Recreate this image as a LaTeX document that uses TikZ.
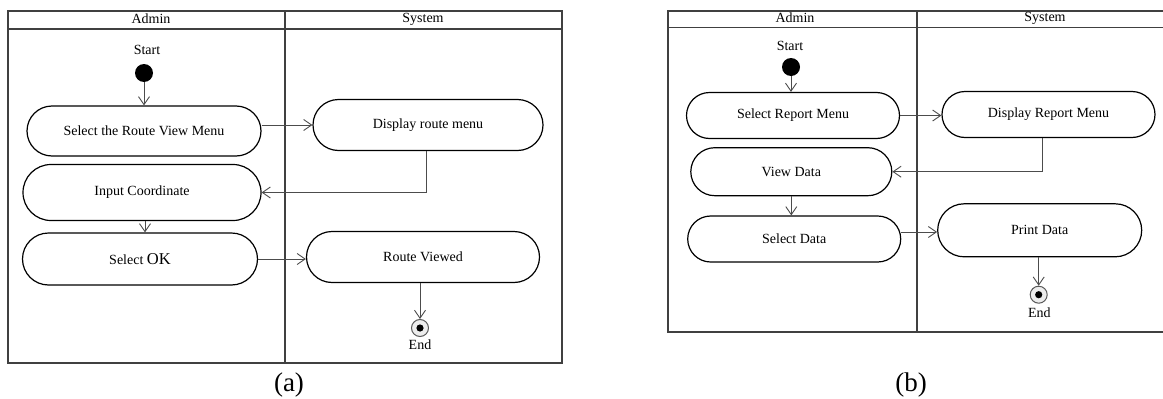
\documentclass[tikz,border=0pt]{standalone}
\usepackage{fontspec}
\setmainfont{Liberation Serif}
\usetikzlibrary{shapes.misc,arrows.meta}
\tikzset{%
	lane/.style     = {draw=black!75, line width=1.3pt}, % Swimlane frame
	action/.style   = {draw, line width=1.2pt, rounded rectangle, fill=white,
		inner sep=0pt}, % Activity
	startdot/.style = {circle, fill=black, minimum size=18pt, inner sep=0pt}, % Start
	enddot/.style   = {circle, draw=black!65, line width=1pt, fill=black!7,
		minimum size=17pt, inner sep=0pt,
		path picture={\fill[black] (path picture bounding box.center) circle (3.6pt);}}, % End
	flow/.style     = {draw=black!70, line width=0.9pt,
		-{Straight Barb[length=8pt,width=11pt]}}, % Control flow
	caption/.style  = {font=\fontsize{27}{30}\selectfont}
}

\begin{document}
\begin{tikzpicture}[x=1pt,y=-1pt,font=\fontsize{14}{16}\selectfont]
\useasboundingbox (0,0) rectangle (1163,399);

% (a) swimlanes
\draw[lane] (8,11) rectangle (562,363);
\draw[lane] (8,29) -- (562,29);
\draw[lane] (285,11) -- (285,363);
\node (adminA) at (151,19) {Admin};
\node (systemA) at (423,19) {System};

\node (startlblA) at (147,50) {Start};
\node[startdot] (startA) at (144,73) {};
\node[action, minimum width=234pt, minimum height=50pt] (routemenu) at (144,131) {Select the Route View Menu};
\node[action, minimum width=230pt, minimum height=51pt] (disproute) at (428,125) {Display route menu};
\node[action, minimum width=238pt, minimum height=56pt] (coord) at (142,192.5) {Input Coordinate};
\node[action, minimum width=235pt, minimum height=52pt] (selok) at (140,259) {Select~{\fontsize{16.5}{18}\selectfont OK}};
\node[action, minimum width=233pt, minimum height=51pt] (viewed) at (423,257) {Route Viewed};
\node[enddot] (endA) at (420,328) {};
\node (endlblA) at (420,345) {End};

\draw[flow] (startA) -- (routemenu);
\draw[flow] (routemenu.east |- disproute.west) -- (disproute.west);
\draw[flow] ([xshift=-2pt]disproute.south) |- (coord.east);
\draw[flow] ([xshift=3pt]coord.south) -- ([xshift=3pt]coord.south |- selok.north);
\draw[flow] (selok.east) -- (selok.east -| viewed.west);
\draw[flow] (viewed.south -| endA) -- (endA);

\node[caption] (capA) at (289,385) {(a)};

% (b) swimlanes
\draw[lane] (1163,11) -- (668,11) -- (668,332) -- (1163,332);
\draw[lane] (668,27.3) -- (1163,27.3);
\draw[lane] (917,11) -- (917,332);
\node (adminB) at (795,18) {Admin};
\node (systemB) at (1045,18) {System};

\node (startlblB) at (790,46) {Start};
\node[startdot] (startB) at (791,67) {};
\node[action, minimum width=213pt, minimum height=46pt] (repmenu) at (793,115.5) {Select Report Menu};
\node[action, minimum width=213pt, minimum height=46pt] (disprep) at (1048.5,114.5) {Display Report Menu};
\node[action, minimum width=201pt, minimum height=48pt] (viewdata) at (791.3,171.7) {View Data};
\node[action, minimum width=213pt, minimum height=46pt] (seldata) at (794.2,239) {Select Data};
\node[action, minimum width=204pt, minimum height=53pt] (printdata) at (1039.7,230.3) {Print Data};
\node[enddot] (endB) at (1038.7,294.7) {};
\node (endlblB) at (1039.3,312.3) {End};

\draw[flow] (startB) -- (startB |- repmenu.north);
\draw[flow] (repmenu.east) -- (repmenu.east -| disprep.west);
\draw[flow] ([xshift=-6pt]disprep.south) |- (viewdata.east);
\draw[flow] (viewdata.south) -- (viewdata.south |- seldata.north);
\draw[flow] ([yshift=7pt]seldata.east) -- ([yshift=7pt]seldata.east -| printdata.west);
\draw[flow] (printdata.south -| endB) -- (endB);

\node[caption] (capB) at (911,385) {(b)};
\end{tikzpicture}
\end{document}
